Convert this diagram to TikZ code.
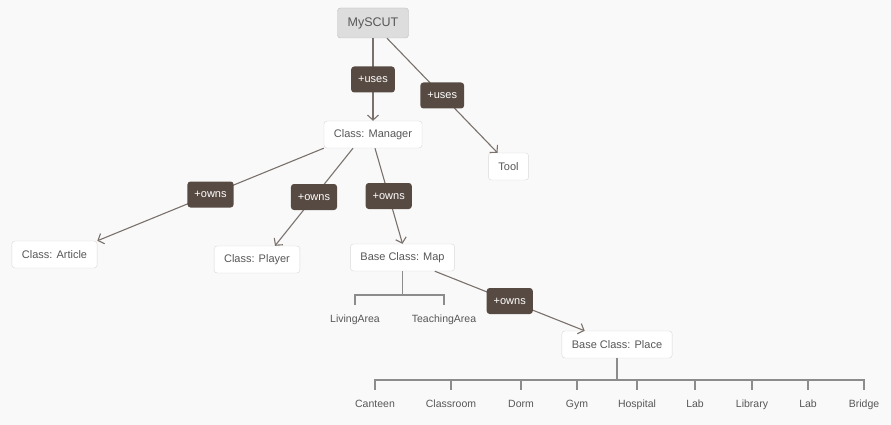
\documentclass[tikz,border=0pt]{standalone}
\usepackage{fontspec}
\setmainfont{Liberation Sans}
\usetikzlibrary{arrows.meta}
\definecolor{bg}{HTML}{F9F9F9}
\definecolor{boxline}{HTML}{D9D9D9}
\definecolor{topfill}{HTML}{DDDDDD}
\definecolor{topline}{HTML}{BDBDBD}
\definecolor{relfill}{HTML}{574A42}
\definecolor{linkcol}{HTML}{7A716C}
\definecolor{treecol}{HTML}{8C8C8C}
\definecolor{txt}{HTML}{575757}
\begin{document}
\begin{tikzpicture}[>={Straight Barb[length=5pt,width=11pt]},x=1pt,y=-1pt,
	box/.style={draw=boxline,fill=white,rounded corners=3pt,minimum height=27pt,inner xsep=10pt,text=txt,font=\fontsize{11}{13}\selectfont},
	topbox/.style={box,draw=topline,fill=topfill,minimum width=71pt,minimum height=30pt,font=\fontsize{12.5}{14}\selectfont},
	rel/.style={fill=relfill,rounded corners=3pt,minimum height=26pt,inner xsep=7pt,text=white,font=\fontsize{11}{13}\selectfont},
	link/.style={draw=linkcol,line width=1.1pt,->},
	tree/.style={draw=treecol,line width=1.1pt},
	leaf/.style={inner sep=1pt,text height=8pt,text depth=2.5pt,text=txt,font=\fontsize{10.5}{12}\selectfont}]
	\fill[bg] (0,0) rectangle (891,425);
	\useasboundingbox (0,0) rectangle (891,425);
	% boxes
	\node[topbox] (myscut) at (373,23) {MySCUT};
	\node[box] (manager) at (373,134.5) {Class: Manager};
	\node[box] (tool) at (508.5,166.5) {Tool};
	\node[box] (article) at (54.5,254.5) {Class: Article};
	\node[box] (player) at (257,259.5) {Class: Player};
	\node[box] (map) at (402.5,257.5) {Base Class: Map};
	\node[box] (place) at (617,344.5) {Base Class: Place};
	% links
	\draw[link] (myscut) -- node[rel,midway] (usesa) {+uses} (manager);
	\draw[link] ([xshift=14]myscut.south) -- node[rel,midway] (usesb) {+uses} ([xshift=-11]tool.north);
	\draw[link] (manager.south west) -- node[rel,midway] (ownsa) {+owns} (article.north east);
	\draw[link] ([xshift=-20]manager.south) -- node[rel,midway] (ownsb) {+owns} ([xshift=18]player.north);
	\draw[link] ([xshift=2]manager.south) -- node[rel,midway] (ownsc) {+owns} (map.north);
	\draw[link] ([xshift=-20]map.south east) -- node[rel,midway] (ownsd) {+owns} ([xshift=23]place.north west);
	% map subclasses
	\coordinate (mapbar) at (402.5,295);
	\draw[tree] (map) -- (mapbar);
	\foreach \n/\x/\t in {living/355/LivingArea,teaching/444/TeachingArea}{
		\node[leaf] (\n) at (\x,320) {\t};
		\draw[tree,shorten >=9pt] (mapbar) -| (\n);
	}
	% place subclasses
	\coordinate (placebar) at (617,380);
	\draw[tree] (place) -- (placebar);
	\foreach \n/\x/\t in {canteen/375/Canteen,classroom/451/Classroom,dorm/521/Dorm,gym/577/Gym,hospital/637/Hospital,laba/695/Lab,library/752/Library,labb/808/Lab,bridge/864/Bridge}{
		\node[leaf] (\n) at (\x,405) {\t};
		\draw[tree,shorten >=9pt] (placebar) -| (\n);
	}
\end{tikzpicture}
\end{document}
